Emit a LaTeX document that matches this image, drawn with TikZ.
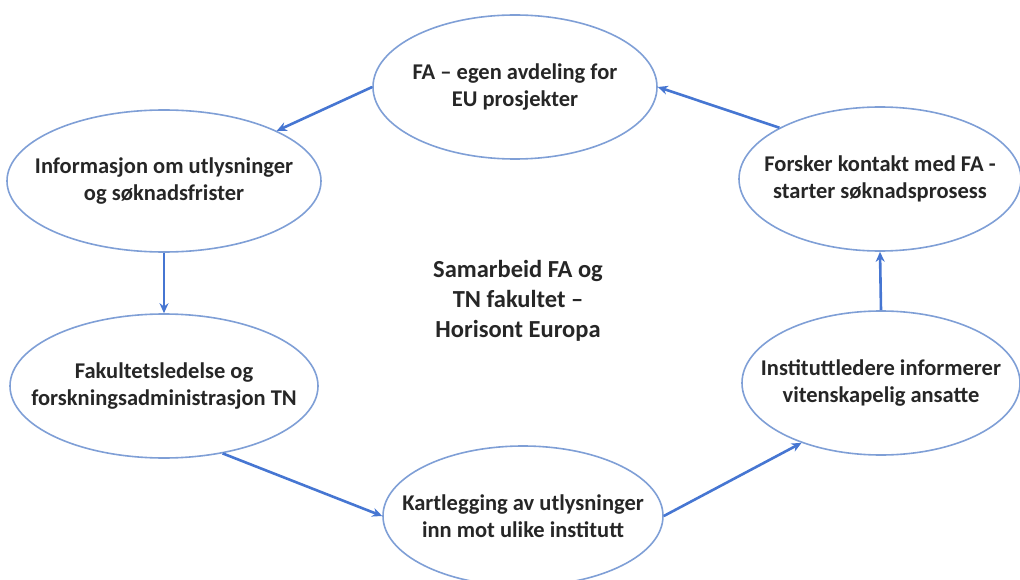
\documentclass[tikz,border=0pt]{standalone}
\usepackage{fontspec}
\setmainfont{Carlito}
\usetikzlibrary{shapes.geometric,arrows.meta}
\definecolor{ellline}{HTML}{7F9FD6}
\definecolor{arrline}{HTML}{4676D2}
\newcommand\zline[1]{\makebox[0pt]{#1}}
\tikzset{
  ell/.style={ellipse, draw=ellline, line width=1.6pt, inner sep=0pt, align=center,
    font=\fontsize{22.5}{27}\selectfont\bfseries, text=black!85},
  conn/.style={draw=arrline, line width=2.6pt, -{Stealth[length=10pt,width=9pt]}}
}
\begin{document}
\begin{tikzpicture}[x=1pt,y=-1pt]
\useasboundingbox (0,0) rectangle (1020,580);
\node[ell, minimum width=284pt, minimum height=144pt] (top) at (515,87) {\zline{FA -- egen avdeling for}\\\zline{EU prosjekter}};
\node[ell, minimum width=314pt, minimum height=142pt] (lu) at (164,181) {\zline{Informasjon om utlysninger}\\\zline{og søknadsfrister}};
\node[ell, minimum width=308pt, minimum height=144pt] (ll) at (164,386) {\zline{Fakultetsledelse og}\\\zline{forskningsadministrasjon TN}};
\node[ell, minimum width=280pt, minimum height=140pt] (bot) at (523,516) {\zline{Kartlegging av utlysninger}\\\zline{inn mot ulike institutt}};
\node[ell, minimum width=278pt, minimum height=144pt] (rl) at (881,383) {\zline{Instituttledere informerer}\\\zline{vitenskapelig ansatte}};
\node[ell, minimum width=282pt, minimum height=144pt] (ru) at (880,179) {\zline{Forsker kontakt med FA -}\\\zline{starter søknadsprosess}};
\node[align=center, font=\fontsize{24.5}{30}\selectfont\bfseries, text=black!85] (mid) at (518,301) {Samarbeid FA og\\TN fakultet --\\Horisont Europa};
\draw[conn] (top.west) -- (lu.24);
\draw[conn] (lu.south) -- (ll.north);
\draw[conn] (ll.-49) -- (bot.west);
\draw[conn] (bot.east) -- (rl.217);
\draw[conn] (rl.north) -- (ru.south);
\draw[conn] (ru.153) -- (top.east);
\end{tikzpicture}
\end{document}
